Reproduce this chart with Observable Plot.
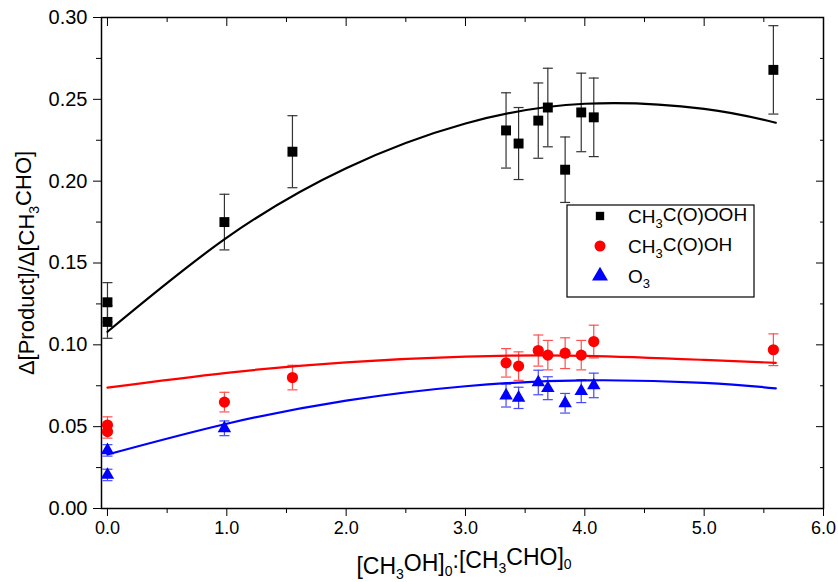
<!DOCTYPE html>
<html><head><meta charset="utf-8">
<script src="https://cdn.jsdelivr.net/npm/d3@7"></script>
<script src="https://cdn.jsdelivr.net/npm/@observablehq/plot@0.6"></script>
<style>body{margin:0;background:#fff}</style>
</head><body><div id="chart"></div>
<script>
// ---- data ----
const xTicks = [0, 1, 2, 3, 4, 5, 6];
const xMinor = [0.5, 1.5, 2.5, 3.5, 4.5, 5.5];
const yTicks = [0, 0.05, 0.10, 0.15, 0.20, 0.25, 0.30];
const yMinor = [0.025, 0.075, 0.125, 0.175, 0.225, 0.275];

// CH3C(O)OOH
const xPeracid = [0, 0, 0.98, 1.55, 3.34, 3.445, 3.61, 3.69, 3.835, 3.97, 4.075, 5.58];
const yPeracid = [0.126, 0.114, 0.175, 0.218, 0.231, 0.223, 0.237, 0.245, 0.207, 0.242, 0.239, 0.268];
const ePeracid = [0.012, 0.010, 0.017, 0.022, 0.023, 0.022, 0.023, 0.024, 0.020, 0.024, 0.024, 0.027];
// CH3C(O)OH
const xAcid = [0, 0, 0.98, 1.55, 3.34, 3.445, 3.61, 3.69, 3.835, 3.97, 4.075, 5.58];
const yAcid = [0.051, 0.047, 0.065, 0.080, 0.089, 0.087, 0.0965, 0.0937, 0.0949, 0.0937, 0.102, 0.097];
const eAcid = [0.005, 0.004, 0.006, 0.0075, 0.0087, 0.0087, 0.0095, 0.009, 0.0094, 0.009, 0.010, 0.0097];
// O3
const xO3 = [0, 0, 0.98, 3.34, 3.445, 3.61, 3.69, 3.835, 3.97, 4.075];
const yO3 = [0.0355, 0.0205, 0.049, 0.069, 0.0676, 0.077, 0.0735, 0.0643, 0.0717, 0.0752];
const eO3 = [0.0035, 0.0035, 0.0045, 0.007, 0.0065, 0.0075, 0.007, 0.006, 0.007, 0.0075];

// fitted curves
const xFit = [0, 1, 2, 3, 4, 5, 5.6];
const fitPeracid = [0.108, 0.1655, 0.2079, 0.2352, 0.2473, 0.2442, 0.2357];
const fitAcid = [0.0738, 0.0829, 0.0893, 0.0928, 0.0933, 0.0908, 0.0890];
const fitO3 = [0.0330, 0.0518, 0.0659, 0.0747, 0.0783, 0.0768, 0.0734];

const names = ["CH3C(O)OOH", "CH3C(O)OH", "O3"];
const colors = ["#000000", "#ff0000", "#0000ff"];
const errColors = ["#333333", "#ff5050", "#4848ff"];
const symbols = ["square", "circle", "triangle"];
const sizes = [5.6, 5.6, 5.0];

// ---- build tables ----
const series = [[xPeracid, yPeracid, ePeracid], [xAcid, yAcid, eAcid], [xO3, yO3, eO3]];
const fits = [fitPeracid, fitAcid, fitO3];
const pts = series.map(([xs, ys, es]) => xs.map((x, i) => ({x, y: ys[i], lo: ys[i] - es[i], hi: ys[i] + es[i]})));
const fitRows = fits.map(f => xFit.map((x, i) => ({x, y: f[i]})));

const cap = {draw(ctx) { ctx.moveTo(-5, 0); ctx.lineTo(5, 0); }};

const marks = [
  Plot.axisY(yTicks, {tickSize: 8, tickPadding: 6, tickFormat: d3.format(".2f"), label: null, fontSize: 20}),
  Plot.axisY(yMinor, {tickSize: 5, tickFormat: () => "", label: null}),
  Plot.axisY(yTicks, {anchor: "right", tickSize: -8, tickFormat: () => "", label: null}),
  Plot.axisY(yMinor, {anchor: "right", tickSize: -4, tickFormat: () => "", label: null}),
  Plot.axisX(xTicks, {tickSize: 8, tickPadding: 5, tickFormat: d3.format(".1f"), label: null, fontSize: 18}),
  Plot.axisX(xMinor, {tickSize: 5, tickFormat: () => "", label: null}),
  Plot.axisX(xTicks, {anchor: "top", tickSize: -8, tickFormat: () => "", label: null}),
  Plot.axisX(xMinor, {anchor: "top", tickSize: -4, tickFormat: () => "", label: null}),
  Plot.frame({stroke: "#000", strokeWidth: 1.5})
];
pts.forEach((rows, k) => {
  marks.push(Plot.ruleX(rows, {x: "x", y1: "lo", y2: "hi", stroke: errColors[k], strokeWidth: 1.2}));
  marks.push(Plot.dot(rows, {x: "x", y: "lo", symbol: cap, r: 5, fill: "none", stroke: errColors[k], strokeWidth: 1.2}));
  marks.push(Plot.dot(rows, {x: "x", y: "hi", symbol: cap, r: 5, fill: "none", stroke: errColors[k], strokeWidth: 1.2}));
});
fitRows.forEach((rows, k) => {
  marks.push(Plot.line(rows, {x: "x", y: "y", curve: "natural", stroke: colors[k], strokeWidth: 2.2}));
});
pts.forEach((rows, k) => {
  marks.push(Plot.dot(rows, {x: "x", y: "y", symbol: symbols[k], r: sizes[k], fill: colors[k], stroke: "none"}));
});

const chart = Plot.plot({
  width: 838, height: 582,
  marginLeft: 101, marginRight: 15, marginTop: 17, marginBottom: 74,
  style: {fontFamily: "'Liberation Sans', Arial, sans-serif", fontSize: "18px", background: "#fff", color: "#000", overflow: "visible"},
  x: {domain: [-0.05, 6]},
  y: {domain: [0, 0.3]},
  marks
});
document.getElementById("chart").appendChild(chart);

// ---- text with subscripts ----
const svg = d3.select(chart);
function subText(sel, parts, subSize) {
  let shifted = false;
  parts.forEach(([s, sub]) => {
    const t = sel.append("tspan").text(s);
    if (sub && !shifted) { t.attr("dy", "0.35em").attr("font-size", subSize); shifted = true; }
    else if (!sub && shifted) { t.attr("dy", "-0.35em"); shifted = false; }
    else if (sub) t.attr("font-size", subSize);
  });
}
// y label
const yl = svg.append("text")
  .attr("transform", "translate(34,263) rotate(-90)")
  .attr("text-anchor", "middle").attr("font-size", 22).attr("fill", "#000");
subText(yl, [["\u0394[Product]/\u0394[CH", false], ["3", true], ["CHO]", false]], 14);
// x label
const xl = svg.append("text")
  .attr("x", 464).attr("y", 574)
  .attr("text-anchor", "middle").attr("font-size", 23).attr("fill", "#000");
subText(xl, [["[CH", false], ["3", true], ["OH]", false], ["0", true], [":[CH", false], ["3", true], ["CHO]", false], ["0", true]], 14);

// legend
const lg = svg.append("g").attr("transform", "translate(567,205)");
lg.append("rect").attr("width", 187).attr("height", 92).attr("fill", "#fff").attr("stroke", "#000").attr("stroke-width", 1.2);
const legendParts = [
  [["CH", false], ["3", true], ["C(O)OOH", false]],
  [["CH", false], ["3", true], ["C(O)OH", false]],
  [["O", false], ["3", true]]
];
const symMap = {square: d3.symbolSquare, circle: d3.symbolCircle, triangle: d3.symbolTriangle};
const legendSizes = [70, 95, 110];
names.forEach((n, k) => {
  const cy = 11 + k * 30;
  lg.append("path").attr("transform", `translate(33,${cy})`)
    .attr("d", d3.symbol(symMap[symbols[k]], legendSizes[k])()).attr("fill", colors[k]);
  const t = lg.append("text").attr("x", 61).attr("y", cy + 7).attr("font-size", 19)
    .attr("text-anchor", "start").attr("fill", "#000");
  subText(t, legendParts[k], 13);
});
</script>
</body></html>
